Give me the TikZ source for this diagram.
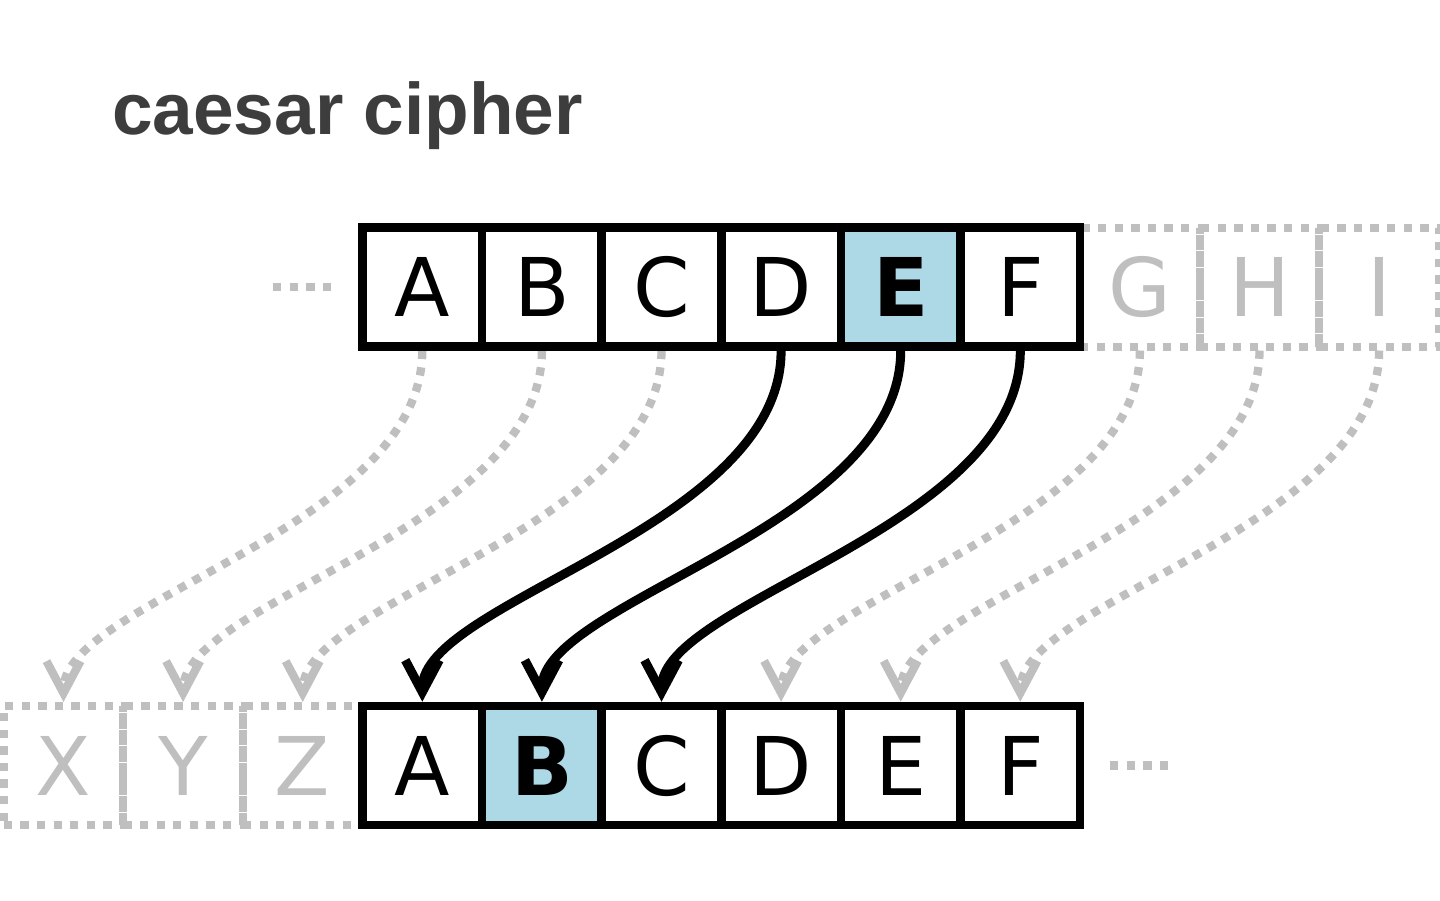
\documentclass[tikz,border=0pt]{standalone}
\usepackage{fontspec}
\setmainfont{DejaVu Sans}
\newfontfamily\titlefont{Liberation Sans}
\usetikzlibrary{arrows.meta,backgrounds}
\definecolor{ghost}{HTML}{BFBFBF}
\definecolor{hilite}{HTML}{ADD8E6}
\definecolor{ink}{HTML}{3D3D3D}
\tikzset{
    cell/.style={draw, line width=8.5pt, minimum width=119.6pt, minimum height=119pt,
            inner sep=0pt, text height=59pt, text depth=0pt, font=\fontsize{81}{90}\selectfont},
    hot/.style={cell, fill=hilite, font=\fontsize{81}{90}\selectfont\bfseries},
    faded/.style={cell, draw=ghost, text=ghost, line width=8pt, dash pattern=on 8.3pt off 8.3pt},
    shiftarrow/.style={line width=9pt, -{Straight Barb[length=32pt,width=34pt]}},
    faintarrow/.style={shiftarrow, draw=ghost, line width=8.3pt, dash pattern=on 8.3pt off 8.3pt},
    dots/.style={draw=ghost, line width=8.3pt, dash pattern=on 8.3pt off 8.3pt}
}
\begin{document}
\begin{tikzpicture}[x=1pt, y=-1pt]
            \useasboundingbox (0,0) rectangle (1440,900);
            \node[anchor=base west, inner sep=0pt, text=ink,
                font=\titlefont\fontsize{73}{80}\selectfont\bfseries] (title) at (112,134) {caesar cipher};
            % letters outside the shown alphabet
            \foreach \ch/\i in {G/6,H/7,I/8} {
                    \node[faded] (top\i) at ({422.3+119.6*(\i)}, 287) {\ch};
                }
            \foreach \ch/\i in {X/-3,Y/-2,Z/-1} {
                    \node[faded] (bot\i) at ({422.3+119.6*(\i)}, 765.5) {\ch};
                }
            % plain and shifted rows
            \foreach \ch/\i in {A/0,B/1,C/2,D/3,F/5} {
                    \node[cell] (top\i) at ({422.3+119.6*(\i)}, 287) {\ch};
                }
            \node[hot] (top4) at ({422.3+119.6*4}, 287) {E};
            \foreach \ch/\i in {A/0,C/2,D/3,E/4,F/5} {
                    \node[cell] (bot\i) at ({422.3+119.6*(\i)}, 765.5) {\ch};
                }
            \node[hot] (bot1) at ({422.3+119.6}, 765.5) {B};
            \begin{scope}[on background layer]
                \foreach \i/\j in {0/-3,1/-2,2/-1,6/3,7/4,8/5} {
                        \draw[faintarrow] (top\i.south) .. controls +(0,177) and +(0,-101) .. (bot\j.north);
                    }
            \end{scope}
            \foreach \i/\j in {3/0,4/1,5/2} {
                    \draw[shiftarrow] (top\i.south) .. controls +(0,177) and +(0,-101) .. (bot\j.north);
                }
            \draw[dots] (273,287) -- (332,287);
            \draw[dots] (1110,765.5) -- (1169,765.5);
        \end{tikzpicture}
\end{document}
